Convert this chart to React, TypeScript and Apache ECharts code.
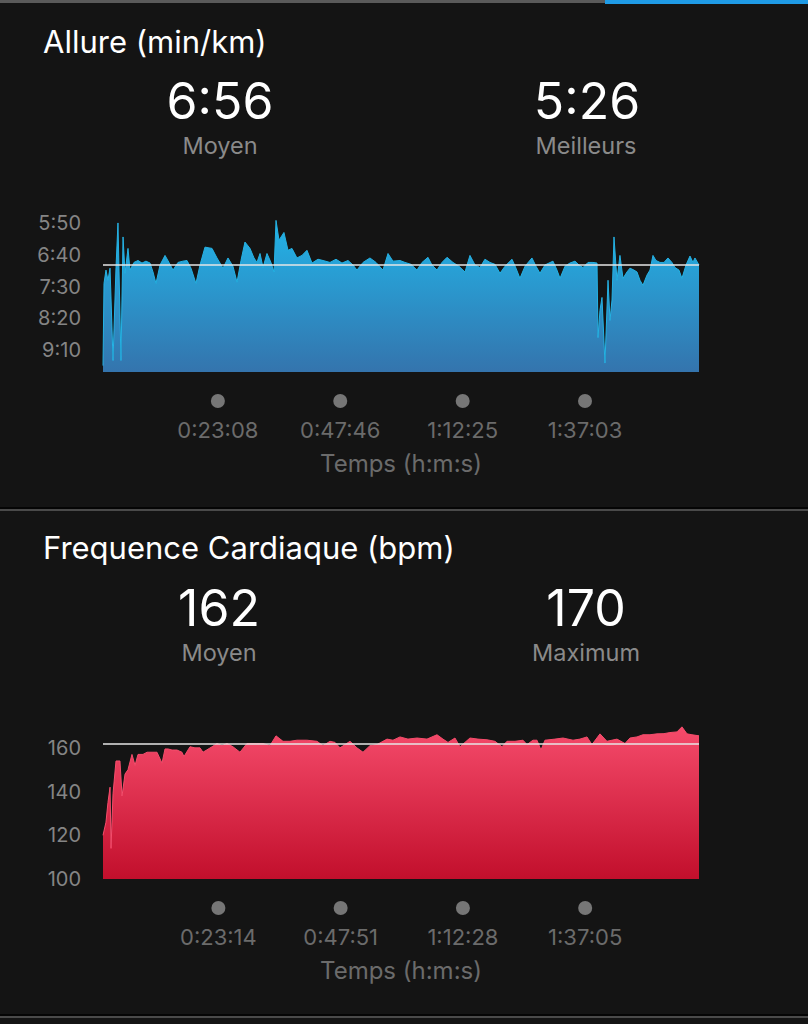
import React, { useEffect, useRef } from "react";
import * as echarts from "echarts";

const FONT = 'Inter, "Liberation Sans", sans-serif';

// ---------- data ----------
const durationSec = 7200;

const paceTitle = "Allure (min/km)";
const paceAvg = "6:56";
const paceBest = "5:26";
const paceTickLabels = ["5:50", "6:40", "7:30", "8:20", "9:10"];
const paceTimeLabels = ["0:23:08", "0:47:46", "1:12:25", "1:37:03"];

// elapsed seconds / pace in seconds per km
const paceTimes = [
  0, 12, 36, 60, 85, 121, 157, 181, 217, 242, 266, 302, 326, 374, 423, 471, 519, 568, 604, 640,
  689, 749, 797, 846, 906, 966, 1015, 1063, 1123, 1172, 1232, 1317, 1377, 1450, 1510, 1570, 1619, 1667, 1715, 1776,
  1824, 1860, 1897, 1933, 1981, 2029, 2066, 2090, 2126, 2186, 2235, 2283, 2343, 2404, 2464, 2525, 2597, 2658, 2742, 2815,
  2887, 2960, 3020, 3068, 3141, 3225, 3298, 3382, 3443, 3503, 3588, 3648, 3721, 3793, 3854, 3926, 3974, 4035, 4095, 4156,
  4228, 4300, 4373, 4433, 4494, 4554, 4614, 4675, 4735, 4796, 4856, 4941, 4989, 5037, 5098, 5182, 5231, 5279, 5339, 5436,
  5484, 5521, 5581, 5641, 5702, 5750, 5798, 5859, 5919, 5968, 5980, 6004, 6028, 6064, 6101, 6125, 6149, 6173, 6209, 6245,
  6282, 6330, 6366, 6414, 6451, 6487, 6523, 6571, 6608, 6644, 6680, 6729, 6777, 6825, 6873, 6910, 6958, 6994, 7043, 7091,
  7127, 7151, 7200,
];
const paceValues = [
  574, 445, 424, 440, 421, 566, 420, 350, 566, 372, 429, 390, 424, 412, 409, 413, 410, 413, 427, 445,
  416, 401, 412, 424, 412, 410, 409, 421, 445, 416, 388, 390, 405, 421, 405, 418, 443, 409, 380, 390,
  405, 412, 398, 420, 398, 412, 427, 346, 377, 365, 393, 390, 405, 401, 393, 413, 407, 409, 412, 407,
  413, 409, 416, 424, 412, 405, 412, 424, 398, 410, 409, 412, 415, 424, 412, 404, 416, 424, 412, 404,
  412, 418, 427, 401, 416, 420, 407, 412, 415, 429, 418, 407, 421, 437, 418, 405, 418, 429, 416, 410,
  424, 437, 418, 413, 410, 416, 420, 412, 412, 413, 530, 487, 467, 570, 440, 503, 471, 372, 440, 401,
  437, 427, 421, 424, 427, 440, 448, 432, 424, 401, 409, 412, 412, 405, 412, 420, 424, 437, 416, 402,
  412, 405, 416,
];

const hrTitle = "Frequence Cardiaque (bpm)";
const hrAvg = 162;
const hrMax = 170;
const hrTickLabels = [100, 120, 140, 160];
const hrTimeLabels = ["0:23:14", "0:47:51", "1:12:28", "1:37:05"];

const hrTimes = [
  0, 36, 60, 85, 97, 121, 157, 205, 230, 266, 302, 350, 387, 423, 483, 532, 592, 652, 713, 749,
  785, 834, 894, 954, 978, 1051, 1111, 1172, 1208, 1317, 1377, 1438, 1498, 1570, 1655, 1739, 1860, 1933, 2017, 2090,
  2174, 2259, 2343, 2464, 2585, 2658, 2742, 2803, 2863, 2984, 3068, 3141, 3225, 3310, 3431, 3503, 3588, 3684, 3793, 3914,
  4035, 4107, 4168, 4252, 4313, 4433, 4530, 4639, 4735, 4820, 4880, 4977, 5074, 5122, 5194, 5243, 5291, 5339, 5460, 5557,
  5678, 5762, 5847, 5907, 6004, 6088, 6209, 6306, 6366, 6451, 6523, 6608, 6692, 6777, 6849, 6934, 6994, 7055, 7115, 7200,
];
const hrValues = [
  120, 126, 135, 142, 114, 139, 154, 154, 138, 148, 150, 157, 152, 157, 157, 158, 158, 158, 153, 159.5,
  159.5, 159, 159, 158, 156, 160.5, 160, 160, 158, 160.5, 162, 161, 162, 160.5, 158, 162, 162, 162, 161, 165.5,
  163, 163, 163.5, 163.5, 163, 161, 163, 162.5, 160, 163, 160, 158, 161, 161.5, 164, 163.5, 165, 164, 164.5, 164,
  166, 164, 162.5, 164.5, 160.5, 164.5, 164, 163.7, 163, 160.5, 163, 163, 163.5, 161.5, 163.5, 163.5, 159, 163.5, 164, 164.5,
  163.5, 164, 165, 161.5, 166.4, 163, 164, 162, 164.5, 165, 166, 166, 166.4, 166.5, 167, 167.3, 169.6, 166.4, 166, 165.5,
];

// ---------- helpers ----------
const toSec = (s: string) =>
  s.split(":").map(Number).reduce((acc, v) => acc * 60 + v, 0);
const fmtPace = (v: number) => {
  const m = Math.floor(v / 60);
  const s = Math.round(v - m * 60);
  return `${m}:${String(s).padStart(2, "0")}`;
};

const paceSeries = paceTimes.map((t, i) => [t, paceValues[i]]);
const hrSeries = hrTimes.map((t, i) => [t, hrValues[i]]);

function timeAxis(gridIndex: number, labels: string[]) {
  const values = labels.map(toSec);
  const map: Record<number, string> = {};
  values.forEach((v, i) => (map[v] = labels[i]));
  return {
    type: "value",
    gridIndex,
    min: 0,
    max: durationSec,
    axisLine: { show: false },
    axisTick: { show: false },
    splitLine: { show: false },
    axisLabel: {
      customValues: values,
      margin: 22,
      formatter: (v: number) => `{d|}\n{t|${map[v] ?? ""}}`,
      rich: {
        d: { width: 14, height: 14, borderRadius: 7, backgroundColor: "#767676" },
        t: { fontSize: 22, color: "#6b6b6b", fontFamily: FONT, lineHeight: 44 },
      },
    },
    name: "Temps (h:m:s)",
    nameLocation: "middle",
    nameGap: 79,
    nameTextStyle: { fontSize: 24, color: "#6b6b6b", fontFamily: FONT },
  };
}

export default function App() {
  const ref = useRef<HTMLDivElement>(null);
  useEffect(() => {
    if (!ref.current) return;
    const chart = echarts.init(ref.current, undefined, { renderer: "svg" });
    const whiteBig = { fill: "#ffffff", fontSize: 50, fontFamily: FONT };
    const sub = { fill: "#8a8a8a", fontSize: 23.5, fontFamily: FONT };
    const title = { fill: "#ffffff", fontSize: 31, fontFamily: FONT };
    const txt = (text: string, x: number, y: number, st: any, align = "center") => ({
      type: "text",
      x,
      y,
      silent: true,
      style: { text, align, verticalAlign: "middle", ...st },
    });
    chart.setOption({
      animation: false,
      backgroundColor: "#141414",
      grid: [
        { left: 103, top: 207, width: 596, height: 165 },
        { left: 103, top: 726, width: 596, height: 153 },
      ],
      xAxis: [timeAxis(0, paceTimeLabels), timeAxis(1, hrTimeLabels)],
      yAxis: [
        {
          type: "value",
          gridIndex: 0,
          inverse: true,
          min: 325,
          max: 584,
          axisLine: { show: false },
          axisTick: { show: false },
          splitLine: { show: false },
          axisLabel: {
            customValues: paceTickLabels.map(toSec),
            formatter: (v: number) => fmtPace(v),
            color: "#858585",
            fontSize: 20,
            fontFamily: FONT,
            margin: 22,
          },
        },
        {
          type: "value",
          gridIndex: 1,
          min: 100,
          max: hrMax,
          axisLine: { show: false },
          axisTick: { show: false },
          splitLine: { show: false },
          axisLabel: {
            customValues: hrTickLabels,
            color: "#858585",
            fontSize: 20,
            fontFamily: FONT,
            margin: 22,
          },
        },
      ],
      series: [
        {
          type: "line",
          xAxisIndex: 0,
          yAxisIndex: 0,
          data: paceSeries,
          symbol: "none",
          lineStyle: { width: 1, color: "#25b2e4" },
          areaStyle: {
            origin: "end",
            opacity: 1,
            color: new echarts.graphic.LinearGradient(0, 0, 0, 1, [
              { offset: 0, color: "#22b4e8" },
              { offset: 1, color: "#3474ad" },
            ]),
          },
          markLine: {
            silent: true,
            symbol: ["none", "none"],
            label: { show: false },
            lineStyle: { color: "#e6e6e6", width: 1.5, type: "solid" },
            data: [{ yAxis: toSec(paceAvg) }],
          },
        },
        {
          type: "line",
          xAxisIndex: 1,
          yAxisIndex: 1,
          data: hrSeries,
          symbol: "none",
          lineStyle: { width: 1, color: "#f54d6c" },
          areaStyle: {
            origin: "start",
            opacity: 1,
            color: new echarts.graphic.LinearGradient(0, 0, 0, 1, [
              { offset: 0, color: "#f54b6b" },
              { offset: 1, color: "#c20f2c" },
            ]),
          },
          markLine: {
            silent: true,
            symbol: ["none", "none"],
            label: { show: false },
            lineStyle: { color: "#e6e6e6", width: 1.5, type: "solid" },
            data: [{ yAxis: hrAvg }],
          },
        },
      ],
      graphic: [
        { type: "rect", shape: { x: 0, y: 0, width: 605, height: 3 }, style: { fill: "#5a5a5a" }, silent: true },
        { type: "rect", shape: { x: 605, y: 0, width: 203, height: 4 }, style: { fill: "#1f9be6" }, silent: true },
        { type: "rect", shape: { x: 0, y: 507, width: 808, height: 2 }, style: { fill: "#050505" }, silent: true },
        { type: "rect", shape: { x: 0, y: 509, width: 808, height: 2 }, style: { fill: "#4a4a4a" }, silent: true },
        { type: "rect", shape: { x: 0, y: 1014, width: 808, height: 2 }, style: { fill: "#050505" }, silent: true },
        { type: "rect", shape: { x: 0, y: 1016, width: 808, height: 2 }, style: { fill: "#4a4a4a" }, silent: true },
        txt(paceTitle, 43, 41, title, "left"),
        txt(paceAvg, 220, 101, whiteBig),
        txt("Moyen", 220, 145, sub),
        txt(paceBest, 587, 101, whiteBig),
        txt("Meilleurs", 586, 145, sub),
        txt(hrTitle, 43, 547, title, "left"),
        txt(String(hrAvg), 219, 608, whiteBig),
        txt("Moyen", 219, 652, sub),
        txt(String(hrMax), 586, 608, whiteBig),
        txt("Maximum", 586, 652, sub),
      ],
    });
    return () => chart.dispose();
  }, []);
  return (
    <div
      ref={ref}
      style={{ position: "fixed", left: 0, top: 0, width: 808, height: 1024 }}
    />
  );
}
